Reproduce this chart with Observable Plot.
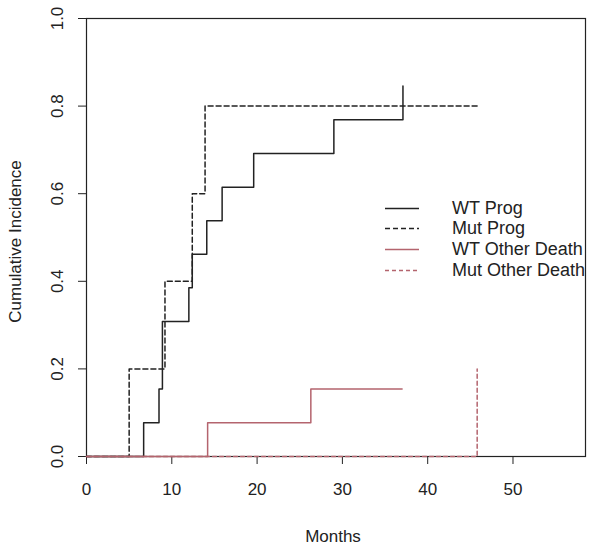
<!DOCTYPE html>
<html>
<head>
<meta charset="utf-8">
<script src="https://cdn.jsdelivr.net/npm/d3@7"></script>
<script src="https://cdn.jsdelivr.net/npm/@observablehq/plot@0.6"></script>
<style>
  body { margin: 0; background: white; }
  #wrap { position: relative; width: 600px; height: 548px; font-family: "Liberation Sans", Arial, sans-serif; }
  #legend { position: absolute; left: 0; top: 0; width: 600px; height: 548px; pointer-events: none; }
  .lrow { position: absolute; height: 20px; display: flex; align-items: center; }
  .lrow span { font-size: 18px; color: #222; position: absolute; left: 67px; white-space: nowrap; line-height: 20px; }
</style>
</head>
<body>
<div id="wrap"></div>
<script>
// Series (months, cumulative incidence)
const wtProgT   = [0, 6.7, 8.5, 8.9, 12.0, 12.4, 14.1, 15.9, 19.6, 29.0, 37.1];
const wtProgV   = [0, 0.077, 0.154, 0.308, 0.385, 0.462, 0.538, 0.615, 0.692, 0.769, 0.846];
const mutProgT  = [0, 5.0, 9.2, 12.4, 13.9, 45.8];
const mutProgV  = [0, 0.2, 0.4, 0.6, 0.8, 0.8];
const wtDeathT  = [0, 14.2, 26.3, 37.0];
const wtDeathV  = [0, 0.077, 0.154, 0.154];
const mutDeathT = [0, 45.8];
const mutDeathV = [0, 0.2];

const xTicks = [0, 10, 20, 30, 40, 50];
const yTicks = [0, 0.2, 0.4, 0.6, 0.8, 1.0];
const xTitle = "Months";
const yTitle = "Cumulative Incidence";

const seriesNames = ["WT Prog", "Mut Prog", "WT Other Death", "Mut Other Death"];
const black = "#222";
const red = "#b4646e";
const seriesStyle = [
  {stroke: black, dash: null},
  {stroke: black, dash: "5,3"},
  {stroke: red, dash: null},
  {stroke: red, dash: "4,3"}
];

const toRows = (t, v) => t.map((d, i) => ({t: d, v: v[i]}));
const series = [
  toRows(wtProgT, wtProgV),
  toRows(mutProgT, mutProgV),
  toRows(wtDeathT, wtDeathV),
  toRows(mutDeathT, mutDeathV)
];

const chart = Plot.plot({
  width: 600,
  height: 548,
  marginLeft: 86,
  marginRight: 15,
  marginTop: 18,
  marginBottom: 92,
  style: {fontFamily: "'Liberation Sans', Arial, sans-serif", fontSize: "17px", color: "#222", background: "white"},
  x: {domain: [0, 58.5]},
  y: {domain: [0, 1]},
  marks: [
    Plot.frame({stroke: "#222", strokeWidth: 1.2}),
    Plot.axisX(xTicks, {tickSize: 8, tickPadding: 18, fontSize: 17, stroke: "#222", label: null}),
    Plot.axisY(yTicks, {tickSize: 8, tickRotate: -90, tickPadding: 16, fontSize: 17, stroke: "#222", tickFormat: d => d.toFixed(1), label: null}),
    Plot.text([xTitle], {frameAnchor: "bottom", dy: 85, dx: -3, fontSize: 17, fill: "#222"}),
    Plot.text([yTitle], {frameAnchor: "left", dx: -71, dy: 4, rotate: -90, textAnchor: "middle", fontSize: 17, fill: "#222"}),
    ...series.map((s, i) => Plot.line(s, {
      x: "t", y: "v", curve: "step-after",
      stroke: seriesStyle[i].stroke, strokeWidth: 1.5,
      strokeDasharray: seriesStyle[i].dash
    }))
  ]
});
document.getElementById("wrap").appendChild(chart);

// Legend (overlay)
const legend = document.createElement("div");
legend.id = "legend";
const rowTop = 197.5, rowStep = 20.7;
seriesNames.forEach((name, i) => {
  const row = document.createElement("div");
  row.className = "lrow";
  row.style.left = "385px";
  row.style.top = (rowTop + i * rowStep) + "px";
  row.style.width = "210px";
  const st = seriesStyle[i];
  row.innerHTML = `<svg width="34" height="20"><line x1="0" x2="34" y1="10.5" y2="10.5" stroke="${st.stroke}" stroke-width="1.5" ${st.dash ? `stroke-dasharray="${st.dash}"` : ""}/></svg><span>${name}</span>`;
  legend.appendChild(row);
});
document.getElementById("wrap").appendChild(legend);
</script>
</body>
</html>
